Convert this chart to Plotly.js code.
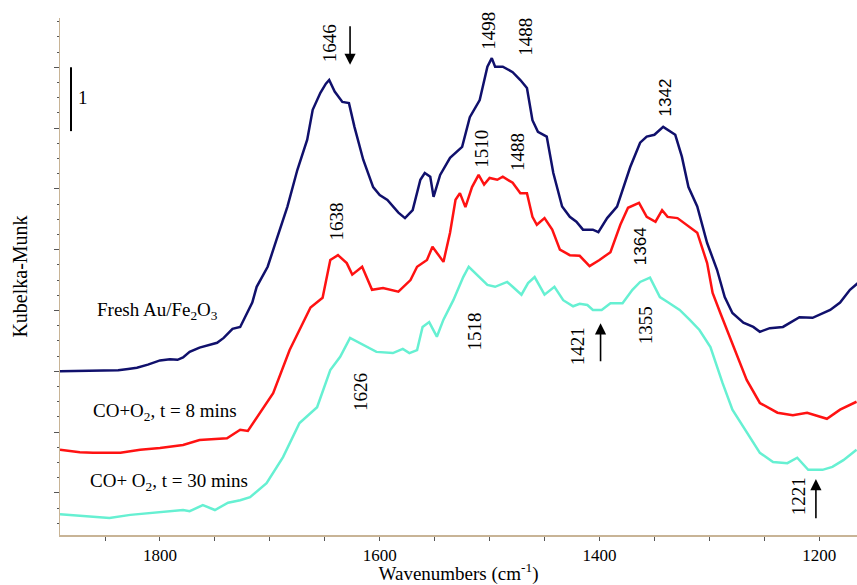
<!DOCTYPE html>
<html>
<head>
<meta charset="utf-8">
<script src="https://cdn.plot.ly/plotly-3.0.1.min.js"></script>
<style>
  html, body { margin: 0; padding: 0; background: #ffffff; }
  #chart { width: 857px; height: 585px; }
</style>
</head>
<body>
<div id="chart"></div>
<script>
// Wavenumbers (cm-1) and Kubelka-Munk values (offset spectra, arbitrary units)
const freshX = [1891,1873,1855,1838,1829,1821,1811,1800,1791,1784,1779,1773,1764,1748,1742,1734,1727,1721,1716,1712,1702,1694,1684,1675,1666,1661,1654,1649,1646,1641,1634,1628,1623,1615,1606,1600,1593,1583,1577,1570,1563,1559,1554,1551,1545,1536,1525,1518,1509,1502,1498,1495,1488,1479,1472,1466,1461,1456,1448,1442,1434,1427,1421,1415,1406,1401,1393,1384,1380,1372,1363,1357,1350,1342,1331,1325,1319,1311,1302,1293,1286,1279,1269,1260,1254,1245,1233,1218,1206,1190,1181,1172,1165];
const freshY = [3.00,3.01,3.01,3.02,3.04,3.06,3.11,3.18,3.20,3.19,3.23,3.32,3.39,3.47,3.55,3.70,3.73,3.96,4.13,4.39,4.72,5.16,5.71,6.31,6.81,7.30,7.58,7.73,7.79,7.60,7.43,7.41,7.02,6.48,6.03,5.90,5.82,5.61,5.52,5.65,6.15,6.26,6.20,5.87,6.23,6.51,6.69,7.18,7.46,8.01,8.15,8.01,8.01,7.92,7.79,7.66,7.13,6.94,6.86,6.26,5.71,5.54,5.46,5.33,5.33,5.29,5.52,5.71,5.93,6.36,6.76,6.86,6.89,7.02,6.89,6.53,6.03,5.71,5.11,4.67,4.22,3.96,3.80,3.73,3.65,3.71,3.73,3.89,3.88,4.01,4.13,4.34,4.45];

const t8X = [1891,1873,1861,1836,1818,1800,1779,1764,1739,1727,1720,1709,1697,1682,1673,1663,1652,1645,1638,1630,1625,1616,1607,1597,1583,1572,1566,1557,1552,1542,1536,1531,1527,1522,1516,1510,1505,1500,1493,1488,1479,1472,1466,1461,1457,1450,1443,1436,1427,1418,1409,1400,1390,1381,1374,1364,1357,1349,1343,1338,1329,1319,1311,1302,1297,1290,1278,1266,1254,1238,1224,1211,1193,1181,1166];
const t8Y = [1.71,1.67,1.66,1.66,1.71,1.74,1.79,1.87,1.90,2.04,2.02,2.32,2.64,3.35,3.68,4.05,4.21,4.83,4.91,4.78,4.59,4.72,4.34,4.37,4.31,4.50,4.72,4.83,5.05,4.80,5.28,5.82,5.93,5.70,6.03,6.23,6.07,6.18,6.15,6.20,6.10,5.93,5.93,5.54,5.41,5.52,5.33,5.00,4.91,4.90,4.73,4.83,4.96,5.41,5.69,5.77,5.54,5.46,5.65,5.54,5.52,5.38,5.28,4.78,4.29,3.96,3.40,2.86,2.48,2.32,2.28,2.32,2.22,2.37,2.50];

const t30X = [1891,1864,1846,1827,1809,1791,1779,1773,1761,1750,1738,1727,1718,1703,1688,1673,1657,1645,1636,1627,1615,1603,1588,1579,1573,1566,1561,1555,1548,1542,1533,1524,1519,1512,1502,1495,1484,1479,1471,1465,1459,1450,1441,1433,1424,1418,1411,1406,1398,1390,1379,1370,1363,1354,1345,1338,1327,1318,1309,1299,1288,1279,1266,1254,1242,1229,1220,1210,1197,1188,1178,1166];
const t30Y = [0.65,0.61,0.59,0.64,0.67,0.70,0.72,0.70,0.80,0.72,0.84,0.88,0.93,1.16,1.59,2.15,2.41,3.02,3.24,3.55,3.43,3.32,3.30,3.37,3.30,3.35,3.73,3.81,3.57,3.85,4.17,4.55,4.72,4.59,4.42,4.39,4.47,4.39,4.26,4.45,4.55,4.26,4.39,4.17,4.07,4.11,4.09,4.01,4.01,4.12,4.12,4.34,4.47,4.54,4.22,4.14,4.01,3.85,3.68,3.40,2.81,2.37,1.99,1.66,1.51,1.49,1.58,1.38,1.38,1.43,1.54,1.71];

const seriesNames = ["Fresh Au/Fe<sub>2</sub>O<sub>3</sub>", "CO+O<sub>2</sub>, t = 8 mins", "CO+ O<sub>2</sub>, t = 30 mins"];
const xTickVals = [1800, 1600, 1400, 1200];

// Peak labels: text, wavenumber position, vertical position (KM units)
const peakText = ["1646","1498","1488","1510","1488","1638","1342","1364","1626","1518","1421","1355","1221"];
const peakX    = [1645,1501,1467,1507,1474,1639,1340,1363,1618,1514,1420,1358,1219];
const peakY    = [8.40,8.61,8.50,6.66,6.61,5.46,7.51,5.06,2.66,3.66,3.42,3.75,0.95];
const peakSans = [false,false,false,false,false,false,true,true,false,false,false,false,false];

// Arrows: wavenumber, tip y, tail y
const arrowX    = [1627, 1399, 1203];
const arrowTip  = [8.04, 3.79, 1.23];
const arrowTail = [8.70, 3.14, 0.56];

const serif = "'Liberation Serif', 'Times New Roman', serif";
const sans = "'Liberation Sans', Arial, sans-serif";

const traces = [
  {x: freshX, y: freshY, name: seriesNames[0], mode: 'lines', line: {color: '#10106c', width: 2.5}},
  {x: t8X, y: t8Y, name: seriesNames[1], mode: 'lines', line: {color: '#ff1212', width: 2.5}},
  {x: t30X, y: t30Y, name: seriesNames[2], mode: 'lines', line: {color: '#66f0d2', width: 2.5}}
];

const annotations = [];
peakText.forEach((t, i) => {
  annotations.push({
    x: peakX[i], y: peakY[i], xref: 'x', yref: 'y', text: t, showarrow: false,
    textangle: -90, xanchor: 'center', yanchor: 'middle',
    font: {family: peakSans[i] ? sans : serif, size: peakSans[i] ? 17 : 19, color: '#000'}
  });
});
arrowX.forEach((ax, i) => {
  annotations.push({
    x: ax, y: arrowTip[i], ax: ax, ay: arrowTail[i], xref: 'x', yref: 'y', axref: 'x', ayref: 'y',
    text: '', showarrow: true, arrowhead: 2, arrowsize: 1.4, arrowwidth: 1.6, arrowcolor: '#000'
  });
});
// series labels
const labelX = [1802, 1795, 1792];
const labelY = [3.99, 2.33, 1.18];
seriesNames.forEach((n, i) => {
  annotations.push({
    x: labelX[i], y: labelY[i], xref: 'x', yref: 'y', text: n, showarrow: false,
    xanchor: 'center', yanchor: 'middle', font: {family: serif, size: 19, color: '#000'}
  });
});
// scale bar label
annotations.push({x: 1870, y: 7.5, xref: 'x', yref: 'y', text: '1', showarrow: false,
  xanchor: 'center', yanchor: 'middle', font: {family: serif, size: 19, color: '#000'}});

const layout = {
  width: 857, height: 585,
  margin: {l: 60, r: 0, t: 18, b: 50},
  paper_bgcolor: '#ffffff', plot_bgcolor: '#ffffff',
  showlegend: false,
  font: {family: serif, color: '#000'},
  xaxis: {
    range: [1891, 1165.6], autorange: false,
    tickmode: 'array', tickvals: xTickVals, ticktext: xTickVals.map(String),
    ticks: 'outside', ticklen: 4, tickwidth: 1, tickcolor: '#555',
    minor: {tickmode: 'linear', tick0: 1200, dtick: 50, ticks: 'outside', ticklen: 4, tickcolor: '#555', showgrid: false},
    showline: true, linecolor: '#c8b496', linewidth: 1.5,
    showgrid: false, zeroline: false,
    tickfont: {family: serif, size: 17, color: '#000'},
    title: {text: 'Wavenumbers (cm<sup>-1</sup>)', font: {family: serif, size: 19, color: '#000'}, standoff: 6}
  },
  yaxis: {
    range: [0.309, 8.81], autorange: false,
    tickmode: 'linear', tick0: 0, dtick: 1,
    ticks: 'outside', ticklen: 5, tickwidth: 1, tickcolor: '#555',
    minor: {tickmode: 'linear', tick0: 0, dtick: 0.25, ticks: 'outside', ticklen: 2, tickcolor: '#555', showgrid: false},
    showticklabels: false,
    showline: true, linecolor: '#c8b496', linewidth: 1.5,
    showgrid: false, zeroline: false,
    title: {text: 'Kubelka-Munk', font: {family: serif, size: 20, color: '#000'}, standoff: 20}
  },
  shapes: [
    {type: 'line', xref: 'x', yref: 'y', x0: 1881, x1: 1881, y0: 6.95, y1: 8.0, line: {color: '#000', width: 2}}
  ],
  annotations: annotations
};

Plotly.newPlot('chart', traces, layout, {staticPlot: true, displayModeBar: false});
</script>
</body>
</html>
